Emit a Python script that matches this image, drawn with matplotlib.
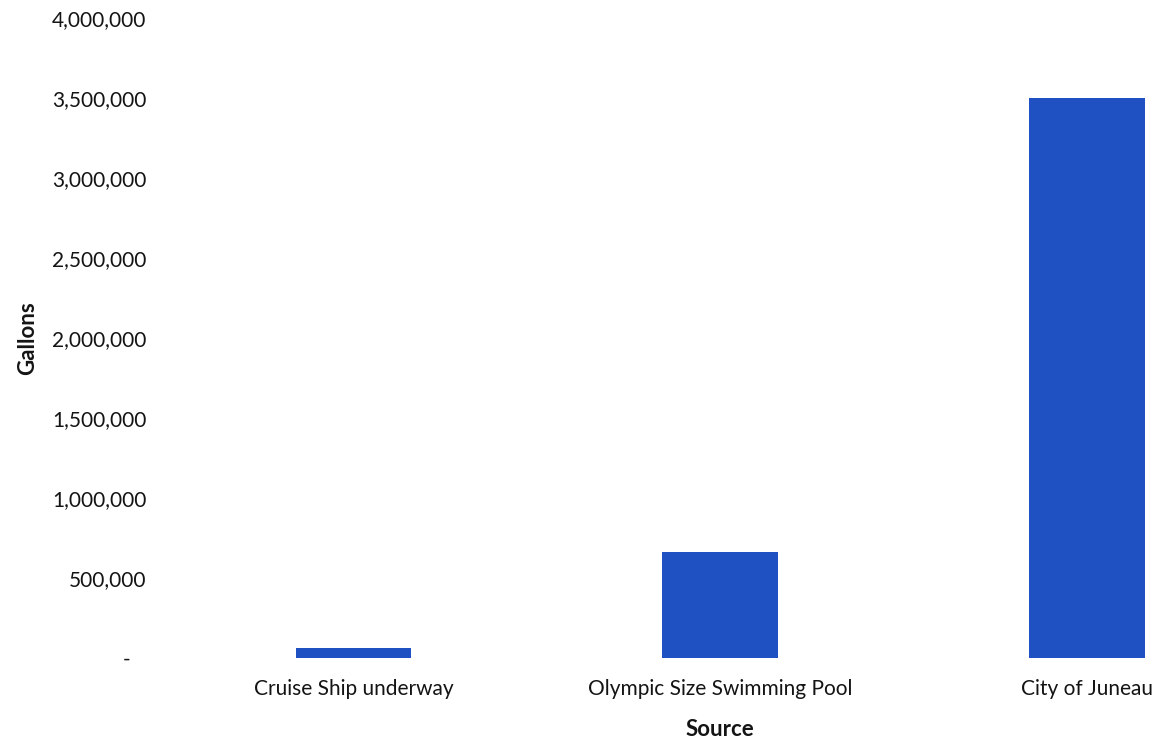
import matplotlib
matplotlib.use("Agg")
import matplotlib.pyplot as plt
from matplotlib.ticker import FuncFormatter

categories = ["Cruise Ship underway", "Olympic Size Swimming Pool", "City of Juneau"]
gallons = [60000, 665000, 3500000]
yticks = [0, 500000, 1000000, 1500000, 2000000, 2500000, 3000000, 3500000, 4000000]

plt.rcParams['font.family'] = ['Lato', 'DejaVu Sans']

W, H = 1157, 740
fig = plt.figure(figsize=(W / 100, H / 100), dpi=100)
left, right, bottom, top = 170, 1157, 658, 18
ax = fig.add_axes([left / W, 1 - bottom / H, (right - left) / W, (bottom - top) / H])

x = list(range(len(categories)))
ax.bar(x, gallons, width=0.315, color="#2051C2")

spacing = 366.7
ax.set_xlim(-0.5, -0.5 + (right - left) / spacing)
ax.set_ylim(0, 4000000)
ax.set_yticks(yticks)
ax.yaxis.set_major_formatter(FuncFormatter(lambda v, p: "-   " if v == 0 else f"{int(v):,}"))
ax.set_xticks(x)
ax.set_xticklabels(categories)

for s in ax.spines.values():
    s.set_visible(False)
ax.tick_params(axis='y', length=0, pad=17, labelsize=15, labelcolor="#141414")
ax.tick_params(axis='x', length=0, pad=15, labelsize=15, labelcolor="#141414")

ax.set_xlabel("Source", fontsize=16, fontweight="bold", color="#141414", labelpad=14)
ax.set_ylabel("Gallons", fontsize=16, fontweight="bold", color="#141414", labelpad=10)
# centre the x-axis title under the middle category, as in the reference
ax.xaxis.set_label_coords(ax.transLimits.transform((1, 0))[0], -0.095)

fig.savefig("out.png", dpi=100)
